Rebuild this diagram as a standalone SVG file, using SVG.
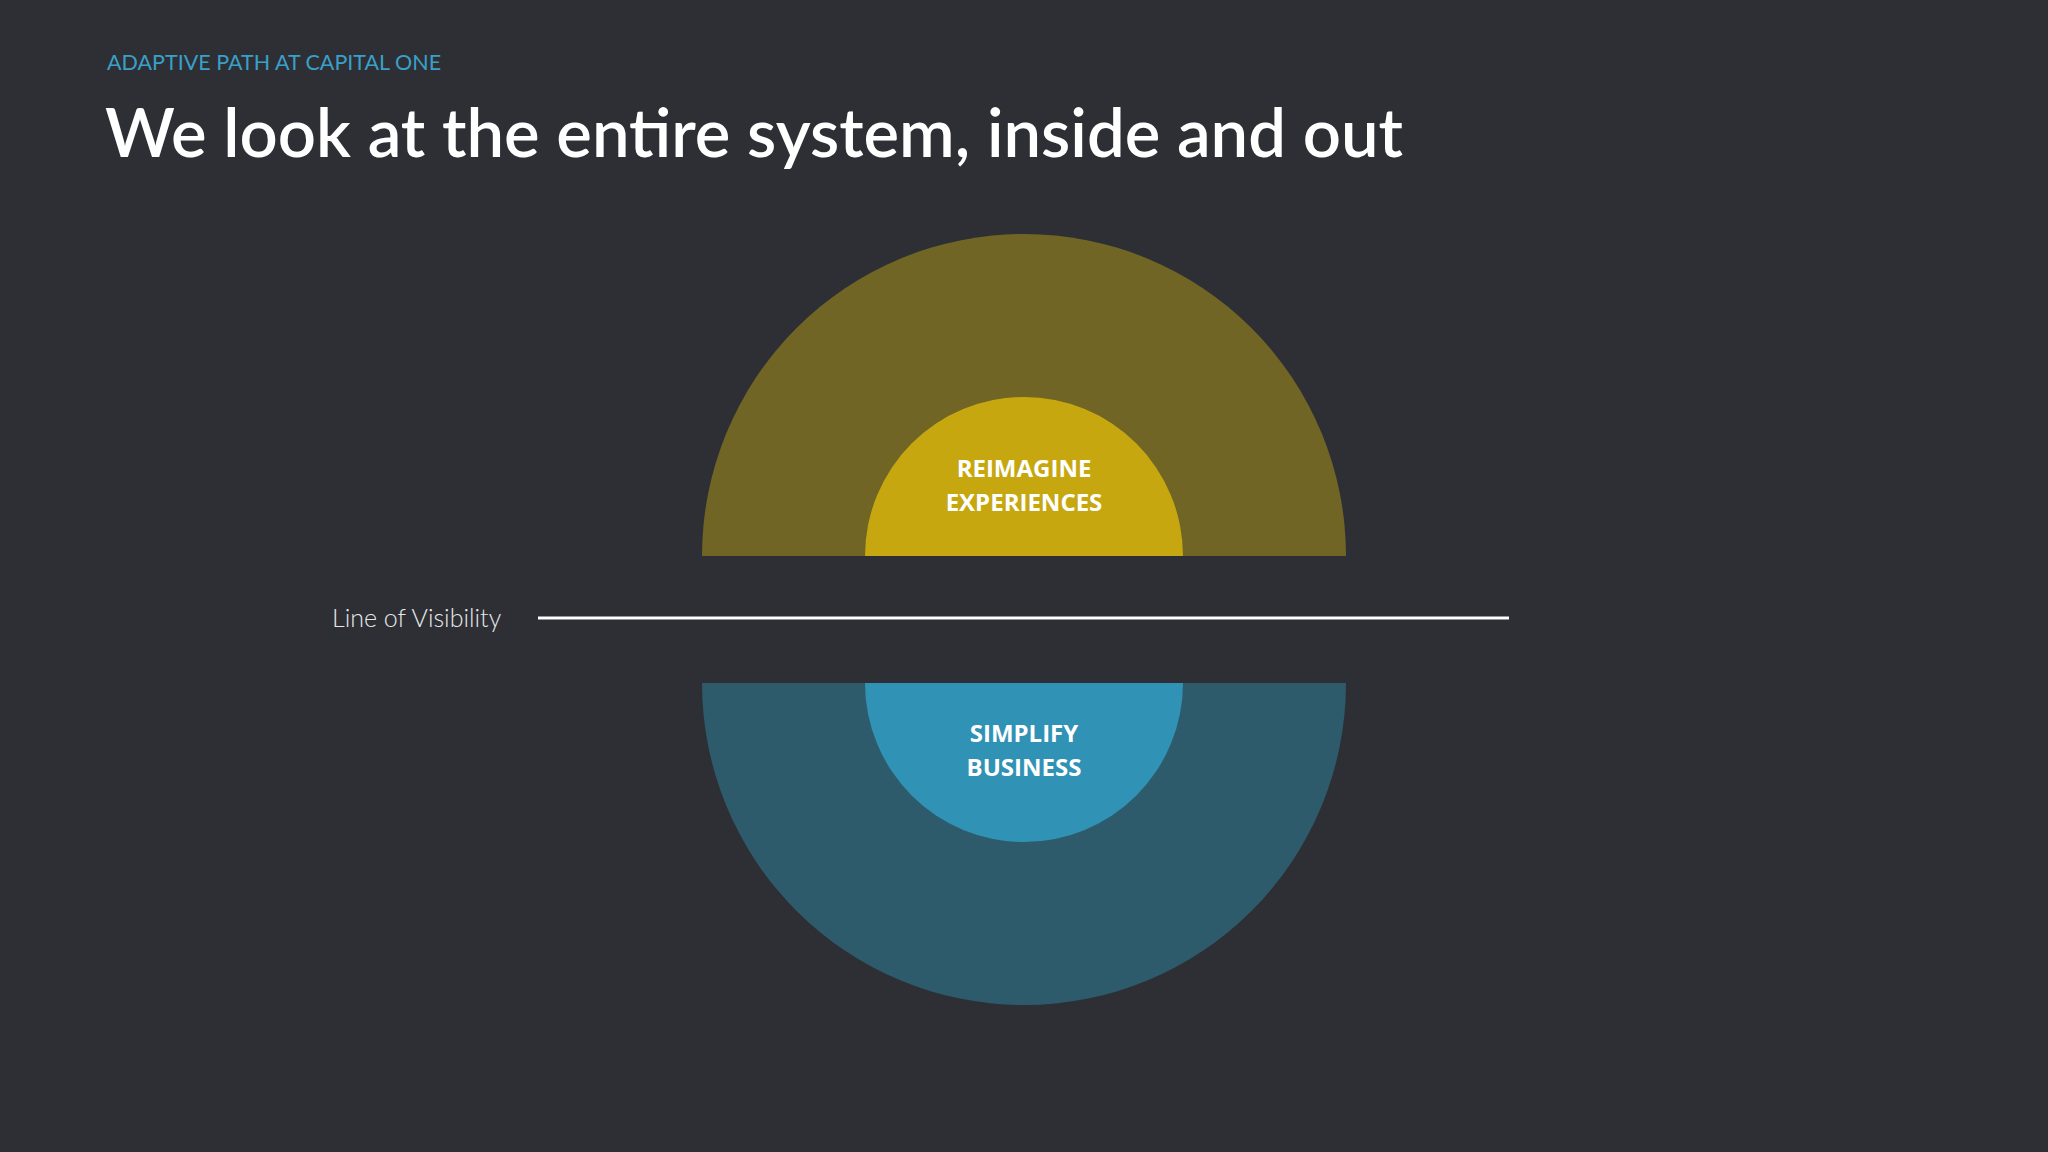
<svg xmlns="http://www.w3.org/2000/svg" width="2048" height="1152" viewBox="0 0 2048 1152">
<style>
.lbl{font-family:"Open Sans","Liberation Sans",sans-serif;font-weight:700;font-size:24px;fill:#fff;text-anchor:middle}
</style>
<rect width="2048" height="1152" fill="#2d2f35"/>
<text x="107" y="70" font-family="Lato,'Liberation Sans',sans-serif" font-size="21.5" fill="#3aa0c8">ADAPTIVE PATH AT CAPITAL ONE</text>
<text x="105" y="157" font-family="Lato,'Liberation Sans',sans-serif" font-weight="600" font-size="67" fill="#fff">We look at the entire system, inside and out</text>
<g id="top-outer"><path d="M702,556 A322,322 0 0 1 1346,556 Z" fill="#716526"/></g>
<g id="top-inner"><path d="M865,556 A159,159 0 0 1 1183,556 Z" fill="#c7a70f"/>
<text class="lbl" x="1024" y="477">REIMAGINE</text><text class="lbl" x="1024" y="511">EXPERIENCES</text></g>
<g id="bottom-outer"><path d="M702,683 A322,322 0 0 0 1346,683 Z" fill="#2e5b6b"/></g>
<g id="bottom-inner"><path d="M865,683 A159,159 0 0 0 1183,683 Z" fill="#3092b5"/>
<text class="lbl" x="1024" y="742">SIMPLIFY</text><text class="lbl" x="1024" y="776">BUSINESS</text></g>
<g id="connectors"><line x1="538" y1="618" x2="1509" y2="618" stroke="#fff" stroke-width="3"/></g>
<g id="label"><text x="332" y="627" font-family="Lato,'Liberation Sans',sans-serif" font-weight="300" font-size="25" fill="#e8e8e8">Line of Visibility</text></g>
</svg>
